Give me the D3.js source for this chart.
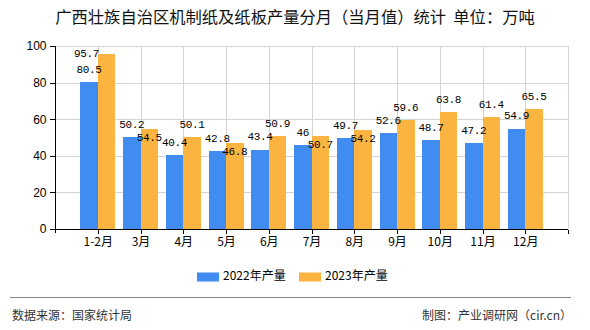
<!DOCTYPE html>
<html><head><meta charset="utf-8">
<script src="https://cdn.jsdelivr.net/npm/d3@7"></script>
<style>
html,body{margin:0;padding:0;background:#fff;}
svg{display:block;}
</style></head>
<body>
<script>
const categories = ["1-2月","3月","4月","5月","6月","7月","8月","9月","10月","11月","12月"];
const series2022 = [80.5,50.2,40.4,42.8,43.4,46,49.7,52.6,48.7,47.2,54.9];
const series2023 = [95.7,54.5,50.1,46.8,50.9,50.7,54.2,59.6,63.8,61.4,65.5];
const seriesNames = ["2022年产量","2023年产量"];
const yTicks = [0,20,40,60,80,100];
const colors = ["#418CF0","#FCB441"];

(function(){
const W = 590, H = 330;
const pL = 55, pR = 568, pT = 46, pB = 229;
const svg = d3.select("body").append("svg").attr("width", W).attr("height", H);
const font = "'Liberation Sans','Noto Sans CJK SC',sans-serif";
const cjk = "'Noto Sans CJK SC','Liberation Sans',sans-serif";

const x = d3.scalePoint().domain(categories).range([pL, pR]).padding(1);
const x1 = d3.scaleBand().domain(seriesNames).range([-17.5, 17.5]).padding(0);
const y = d3.scaleLinear().domain([0, 100]).range([pB, pT]);

// title
svg.append("text").attr("x", 295).attr("y", 19).attr("text-anchor","middle")
  .attr("dominant-baseline","middle").attr("font-family", cjk).attr("font-size", 16.3)
  .attr("fill","#111").style("white-space","pre")
  .text("广西壮族自治区机制纸及纸板产量分月（当月值）统计  单位：万吨");

// gridlines
const grid = svg.append("g").attr("stroke","#d4d4d4").attr("stroke-width",1).attr("shape-rendering","crispEdges");
yTicks.filter(t => t > 0).forEach(t => {
  grid.append("line").attr("x1", pL).attr("x2", pR).attr("y1", Math.round(y(t))+0.5).attr("y2", Math.round(y(t))+0.5);
});
categories.forEach(c => {
  grid.append("line").attr("x1", Math.round(x(c))+0.5).attr("x2", Math.round(x(c))+0.5).attr("y1", pT).attr("y2", pB);
});
grid.append("line").attr("x1", pR+0.5).attr("x2", pR+0.5).attr("y1", pT).attr("y2", pB);

// bars
const data = categories.map((c,i) => ({c, vals:[series2022[i], series2023[i]]}));
const gBars = svg.append("g").attr("shape-rendering","crispEdges");
data.forEach(d => {
  d.vals.forEach((v,j) => {
    gBars.append("rect")
      .attr("x", x(d.c) + x1(seriesNames[j]))
      .attr("width", x1.bandwidth())
      .attr("y", y(v))
      .attr("height", y(0) - y(v))
      .attr("fill", colors[j]);
  });
});

// axes
const yAxis = svg.append("g").attr("transform", `translate(${pL+0.5},0)`)
  .call(d3.axisLeft(y).tickValues(yTicks).tickSize(6).tickPadding(3));
yAxis.select(".domain").attr("d", `M0,${pT}V${pB+4}`).attr("stroke","#000");
yAxis.selectAll("text").attr("font-family", font).attr("font-size", 12).attr("fill","#000");
yAxis.selectAll("line").attr("stroke","#000");
yAxis.attr("shape-rendering","crispEdges");

const xAxis = svg.append("g").attr("transform", `translate(0,${pB+0.5})`)
  .call(d3.axisBottom(x).tickSize(4).tickPadding(4));
xAxis.select(".domain").attr("d", `M${pL},0H${pR}`).attr("stroke","#000");
xAxis.selectAll("text").attr("font-family", cjk).attr("font-size", 12).attr("fill","#000");
xAxis.selectAll("line").attr("stroke","#000");
xAxis.append("line").attr("x1", pR+0.5).attr("x2", pR+0.5).attr("y1",0).attr("y2",4).attr("stroke","#000");
xAxis.attr("shape-rendering","crispEdges");

// value labels
const lab = svg.append("g").attr("font-family","'Liberation Mono','DejaVu Sans Mono',monospace")
  .attr("font-size", 11).attr("letter-spacing", -0.4).attr("fill","#000").attr("text-anchor","middle");
data.forEach(d => {
  const bx = x(d.c) + x1(seriesNames[0]) + x1.bandwidth()/2;
  const ox = x(d.c) + x1(seriesNames[1]) + x1.bandwidth()/2;
  const by = y(d.vals[0]) - 12;
  let oy = y(d.vals[1]) - 12, oxx = ox;
  if (oy - 6 < pT) { oy = y(d.vals[1]); oxx = ox - 20; }
  else if (Math.abs(oy - by) < 12) { oy = y(d.vals[1]) + 9; }
  lab.append("text").attr("x", bx).attr("y", by).attr("dominant-baseline","middle").text(d.vals[0]);
  lab.append("text").attr("x", oxx).attr("y", oy).attr("dominant-baseline","middle").text(d.vals[1]);
});

// legend
const leg = svg.append("g");
const legX = [197, 299];
seriesNames.forEach((n,j) => {
  leg.append("rect").attr("x", legX[j]).attr("y", 272.5).attr("width", 22).attr("height", 9).attr("fill", colors[j]);
  leg.append("text").attr("x", legX[j] + 26).attr("y", 277).attr("dominant-baseline","middle")
    .attr("font-family", cjk).attr("font-size", 12).attr("fill","#000").text(n);
});

// footer
svg.append("line").attr("x1", 10).attr("x2", 571).attr("y1", 297.5).attr("y2", 297.5)
  .attr("stroke","#888").attr("stroke-width",1);
svg.append("text").attr("x", 12).attr("y", 317).attr("dominant-baseline","middle")
  .attr("font-family", cjk).attr("font-size", 12).attr("fill","#333").text("数据来源：国家统计局");
svg.append("text").attr("x", 572).attr("y", 317).attr("dominant-baseline","middle").attr("text-anchor","end")
  .attr("font-family", cjk).attr("font-size", 12).attr("fill","#333").text("制图：产业调研网（cir.cn）");
})();
</script>
</body></html>
